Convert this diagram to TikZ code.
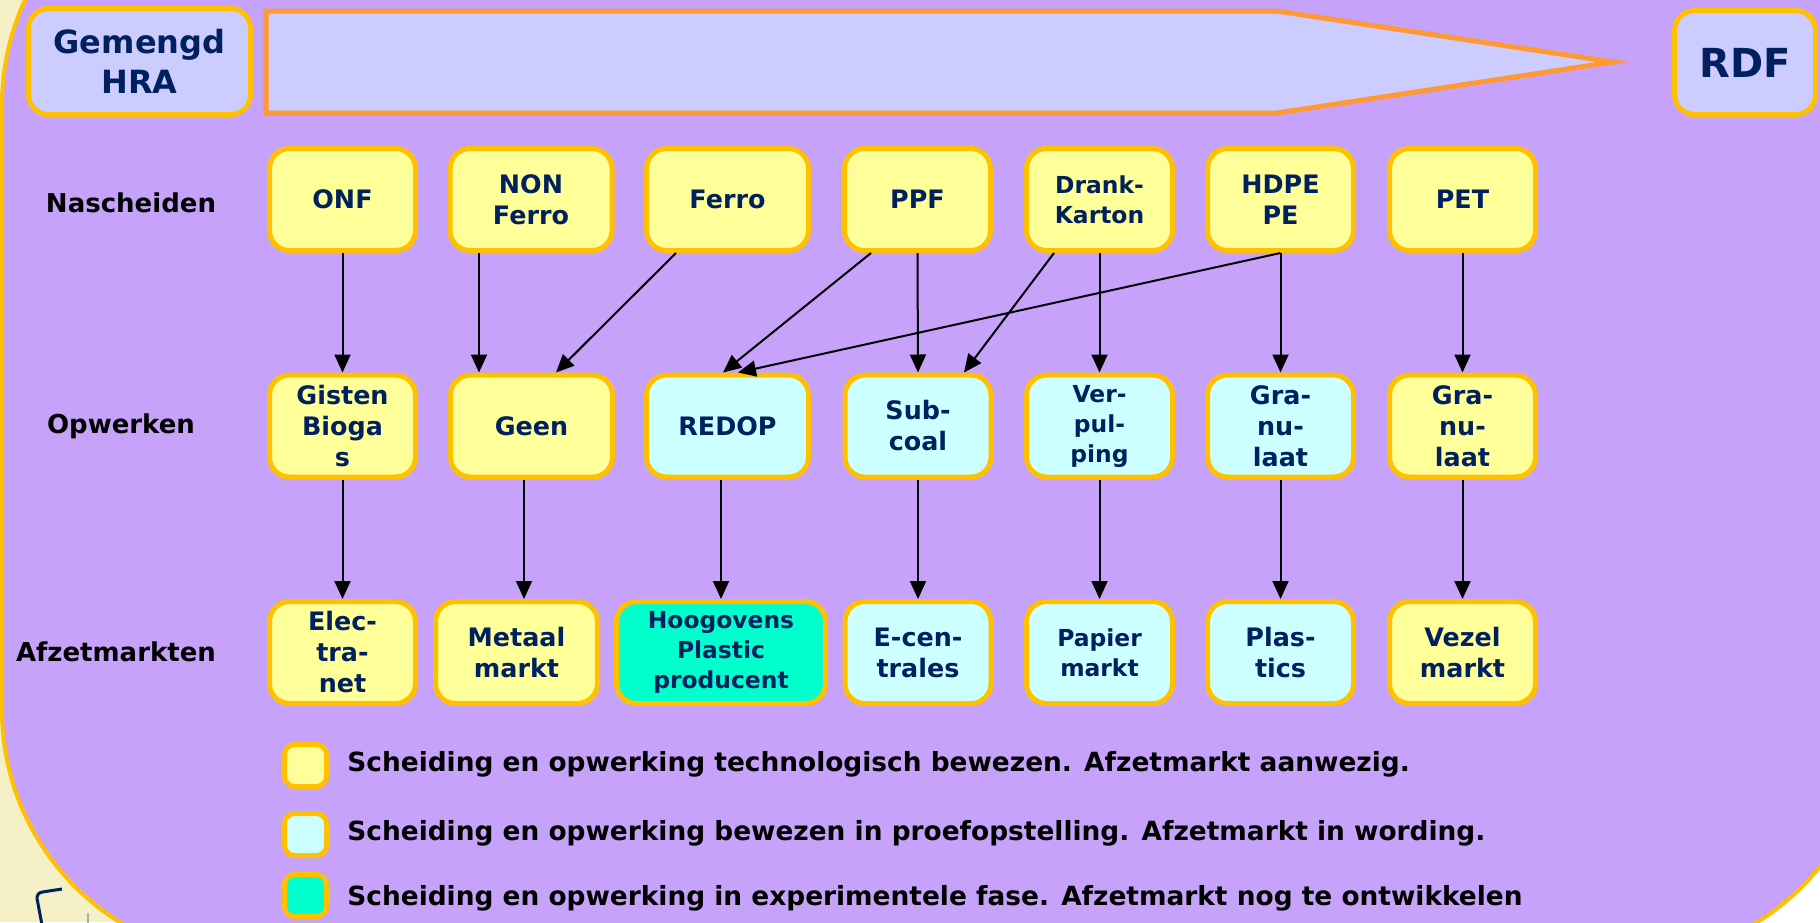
\documentclass[tikz,border=0pt]{standalone}
\usepackage{fontspec}
\setmainfont{DejaVu Sans}
\usetikzlibrary{arrows.meta}

\definecolor{paars}{RGB}{199,162,250}
\definecolor{goud}{RGB}{255,192,0}
\definecolor{oranje}{RGB}{255,153,51}
\definecolor{lila}{RGB}{204,204,255}
\definecolor{geel}{RGB}{255,255,153}
\definecolor{lichtblauw}{RGB}{204,255,255}
\definecolor{turkoois}{RGB}{0,255,204}
\definecolor{creme}{RGB}{245,240,198}
\definecolor{navy}{RGB}{0,32,96}

\tikzset{stage/.style = {draw = goud, line width = 2.5pt, rounded corners = 10pt, text = navy, align = center,
		font = \bfseries\fontsize{12.7}{15.5}\selectfont, minimum width = 73pt, minimum height = 51pt, inner sep = 0pt},
	breed/.style = {minimum width = 81pt},
	klein/.style = {font = \bfseries\fontsize{11.7}{15}\selectfont},
	rij/.style = {font = \bfseries\fontsize{13}{15}\selectfont, inner sep = 0pt},
	uitleg/.style = {font = \bfseries\fontsize{13.2}{15}\selectfont, inner sep = 0pt, anchor = west},
	pijl/.style = {line width = 1pt, -{Triangle[length = 9pt, width = 8pt]}},
	legenda/.style = {draw = goud, line width = 2.5pt, rounded corners = 5pt, minimum size = 21pt, inner sep = 0pt}}

\begin{document}
\begin{tikzpicture}[x = 0.5pt, y = -0.5pt]
				\clip (0,0) rectangle (1820,922);
				\fill [white] (0,0) rectangle (1820,922);
				\fill [creme] (0,0) rectangle (400,922);
				\draw [navy, line width = 1.5pt, rounded corners = 3pt] (42,925) -- (36,893) -- (62,889);
				\draw [gray!60, line width = 1pt] (88,913) -- (88,925);
				\draw [fill = paars, draw = goud, line width = 2pt, rounded corners = 125pt] (2,-145) rectangle (1875,960);
				%
				\node (gemengd)[stage, fill = lila, minimum width = 111pt, minimum height = 53pt,
					font = \bfseries\fontsize{16}{19.7}\selectfont] at (139.5,61.5){Gemengd\\HRA};
				\draw [fill = lila, draw = oranje, line width = 2.5pt] (266,11) -- (1277,11) -- (1613,62) -- (1277,113) -- (266,113) -- cycle;
				\node (rdf)[stage, fill = lila, minimum width = 70.5pt, minimum height = 52pt,
					font = \bfseries\fontsize{20}{24}\selectfont] at (1745,62.5){RDF};
				%
				\node (nascheiden)[rij] at (131,203){Nascheiden};
				\node (opwerken)[rij] at (121,426){Opwerken};
				\node (afzet)[rij] at (116,652){Afzetmarkten};
				%
				\node (onf)[stage, fill = geel] at (342.5,199.5){ONF};
				\node (nonferro)[stage, breed, fill = geel] at (531,199.5){NON\\Ferro};
				\node (ferro)[stage, breed, fill = geel] at (727.5,199.5){Ferro};
				\node (ppf)[stage, fill = geel] at (917.5,199.5){PPF};
				\node (drank)[stage, klein, fill = geel] at (1099.5,199.5){Drank-\\Karton};
				\node (hdpe)[stage, fill = geel] at (1280.5,199.5){HDPE\\PE};
				\node (pet)[stage, fill = geel] at (1462.5,199.5){PET};
				%
				\node (gisten)[stage, fill = geel] at (342.5,426){Gisten\\Bioga\\s};
				\node (geen)[stage, breed, fill = geel] at (531.5,426){Geen};
				\node (redop)[stage, breed, fill = lichtblauw] at (727.5,426){REDOP};
				\node (subcoal)[stage, fill = lichtblauw] at (918,426){Sub-\\coal};
				\node (verpulping)[stage, klein, fill = lichtblauw] at (1099.5,426){Ver-\\pul-\\ping};
				\node (granulaat)[stage, fill = lichtblauw] at (1280.5,426){Gra-\\nu-\\laat};
				\node (granulaatb)[stage, fill = geel] at (1462.5,426){Gra-\\nu-\\laat};
				%
				\node (electranet)[stage, fill = geel] at (342.5,652.5){Elec-\\tra-\\net};
				\node (metaal)[stage, breed, fill = geel] at (516.5,652.5){Metaal\\markt};
				\node (hoogovens)[stage, klein, fill = turkoois, minimum width = 104.5pt] at (721,652.5){Hoogovens\\Plastic\\producent};
				\node (ecentrales)[stage, fill = lichtblauw] at (918,652.5){E-cen-\\trales};
				\node (papier)[stage, klein, fill = lichtblauw] at (1099.5,652.5){Papier\\markt};
				\node (plastics)[stage, fill = lichtblauw] at (1280.5,652.5){Plas-\\tics};
				\node (vezel)[stage, fill = geel] at (1462.5,652.5){Vezel\\markt};
				%
				\draw [pijl] (onf.south) -- (gisten.north);
				\draw [pijl] ([shift = {(-52,0)}]nonferro.south) -- ([shift = {(-52.5,0)}]geen.north);
				\draw [pijl] ([shift = {(-51.5,0)}]ferro.south) -- ([shift = {(24.5,0)}]geen.north);
				\draw [pijl] ([shift = {(-46.5,0)}]ppf.south) -- ([shift = {(-4.5,0)}]redop.north);
				\draw [pijl] (ppf.south) -- (subcoal.north);
				\draw [pijl] ([shift = {(-45.5,0)}]drank.south) -- ([shift = {(46,0)}]subcoal.north);
				\draw [pijl] (drank.south) -- (verpulping.north);
				\draw [pijl] (hdpe.south) -- ([shift = {(10.5,0)}]redop.north);
				\draw [pijl] (hdpe.south) -- (granulaat.north);
				\draw [pijl] (pet.south) -- (granulaatb.north);
				%
				\draw [pijl] (gisten.south) -- (electranet.north);
				\draw [pijl] ([shift = {(-7.5,0)}]geen.south) -- ([shift = {(7.5,0)}]metaal.north);
				\draw [pijl] ([shift = {(-6.5,0)}]redop.south) -- (hoogovens.north);
				\draw [pijl] (subcoal.south) -- (ecentrales.north);
				\draw [pijl] (verpulping.south) -- (papier.north);
				\draw [pijl] (granulaat.south) -- (plastics.north);
				\draw [pijl] (granulaatb.south) -- (vezel.north);
				%
				\node (geelvak)[legenda, fill = geel] at (305.5,765.5){};
				\node (blauwvak)[legenda, fill = lichtblauw] at (305.5,834.5){};
				\node (turkoisvak)[legenda, fill = turkoois] at (305.5,895.5){};
				\node (geeltekst)[uitleg] at (347,764){Scheiding en opwerking technologisch bewezen. Afzetmarkt aanwezig.};
				\node (blauwtekst)[uitleg] at (347,833){Scheiding en opwerking bewezen in proefopstelling. Afzetmarkt in wording.};
				\node (turkoistekst)[uitleg] at (347,898){Scheiding en opwerking in experimentele fase. Afzetmarkt nog te ontwikkelen};
			\end{tikzpicture}
\end{document}
